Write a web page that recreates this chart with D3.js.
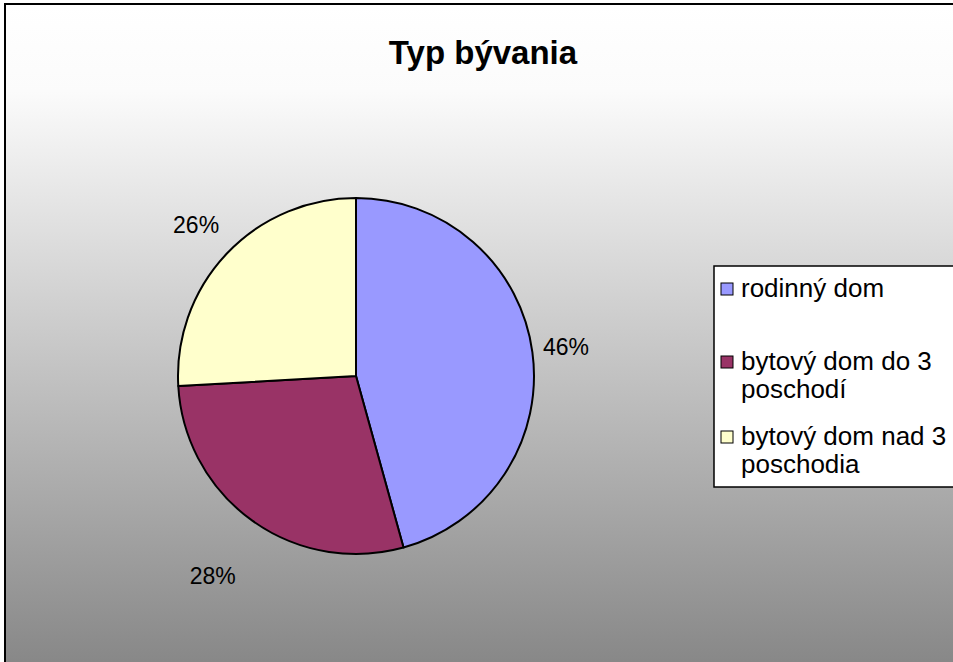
<!DOCTYPE html>
<html>
<head>
<meta charset="utf-8">
<script src="https://cdn.jsdelivr.net/npm/d3@7"></script>
<style>
  html, body { margin: 0; padding: 0; background: #fff; }
  svg { display: block; font-family: 'Liberation Sans', Arial, sans-serif; }
</style>
</head>
<body>
<div id="vis"></div>
<script>
var title = 'Typ bývania';
var categories = ['rodinný dom', 'bytový dom do 3 poschodí', 'bytový dom nad 3 poschodia'];
var legendLines = [['rodinný dom'], ['bytový dom do 3', 'poschodí'], ['bytový dom nad 3', 'poschodia']];
var values = [45.7, 28.4, 25.9];
var colors = ['#9999ff', '#993366', '#ffffcc'];

var width = 953;
var height = 662;
// distance of each % label from the pie centre
var labelDist = [212, 246, 220];

var svg = d3.select('#vis')
  .append('svg')
  .attr('width', width)
  .attr('height', height);

// background gradient, white at top fading to grey
var defs = svg.append('defs');
var grad = defs.append('linearGradient')
  .attr('id', 'bg')
  .attr('x1', 0).attr('y1', 0)
  .attr('x2', 0).attr('y2', 1);
grad.append('stop').attr('offset', '0').attr('stop-color', '#ffffff');
grad.append('stop').attr('offset', '0.13').attr('stop-color', '#fbfbfb');
grad.append('stop').attr('offset', '1').attr('stop-color', '#858585');

svg.append('rect')
  .attr('x', 5).attr('y', 4)
  .attr('width', width + 10).attr('height', height + 10)
  .attr('fill', 'url(#bg)')
  .attr('stroke', '#000')
  .attr('stroke-width', 2);

svg.append('text')
  .attr('x', 483)
  .attr('y', 64)
  .attr('text-anchor', 'middle')
  .style('font-size', '33px')
  .style('font-weight', 'bold')
  .text(title);

// pie
var cx = 356, cy = 376, r = 178;
var pie = d3.pie().sort(null).value(d => d);
var arcs = pie(values);
var arc = d3.arc().innerRadius(0).outerRadius(r);

var g = svg.append('g').attr('transform', `translate(${cx},${cy})`);
g.selectAll('path')
  .data(arcs)
  .enter()
  .append('path')
  .attr('d', arc)
  .attr('fill', (d, i) => colors[i])
  .attr('stroke', '#000')
  .attr('stroke-width', 2)
  .attr('stroke-linejoin', 'round');

function labelPos(d, i) {
  var a = (d.startAngle + d.endAngle) / 2;
  return [Math.sin(a) * labelDist[i], -Math.cos(a) * labelDist[i]];
}

g.selectAll('text.pct')
  .data(arcs)
  .enter()
  .append('text')
  .attr('class', 'pct')
  .attr('x', (d, i) => labelPos(d, i)[0])
  .attr('y', (d, i) => labelPos(d, i)[1] + 8)
  .attr('text-anchor', 'middle')
  .style('font-size', '23px')
  .text(d => Math.round(d.data) + '%');

// legend
var legend = svg.append('g').attr('transform', 'translate(714,266)');
legend.append('rect')
  .attr('x', 0).attr('y', 0)
  .attr('width', 260).attr('height', 221)
  .attr('fill', '#fff')
  .attr('stroke', '#000')
  .attr('stroke-width', 1.5);

var rowY = [31, 104, 179];
var item = legend.selectAll('g.item')
  .data(categories)
  .enter()
  .append('g')
  .attr('class', 'item')
  .attr('transform', (d, i) => `translate(0,${rowY[i]})`);

item.append('rect')
  .attr('x', 7).attr('y', -14)
  .attr('width', 12).attr('height', 12)
  .attr('fill', (d, i) => colors[i])
  .attr('stroke', '#000')
  .attr('stroke-width', 1);

item.append('text')
  .style('font-size', '26px')
  .selectAll('tspan')
  .data((d, i) => legendLines[i])
  .enter()
  .append('tspan')
  .attr('x', 27)
  .attr('y', (d, j) => j * 28)
  .text(d => d);
</script>
</body>
</html>
